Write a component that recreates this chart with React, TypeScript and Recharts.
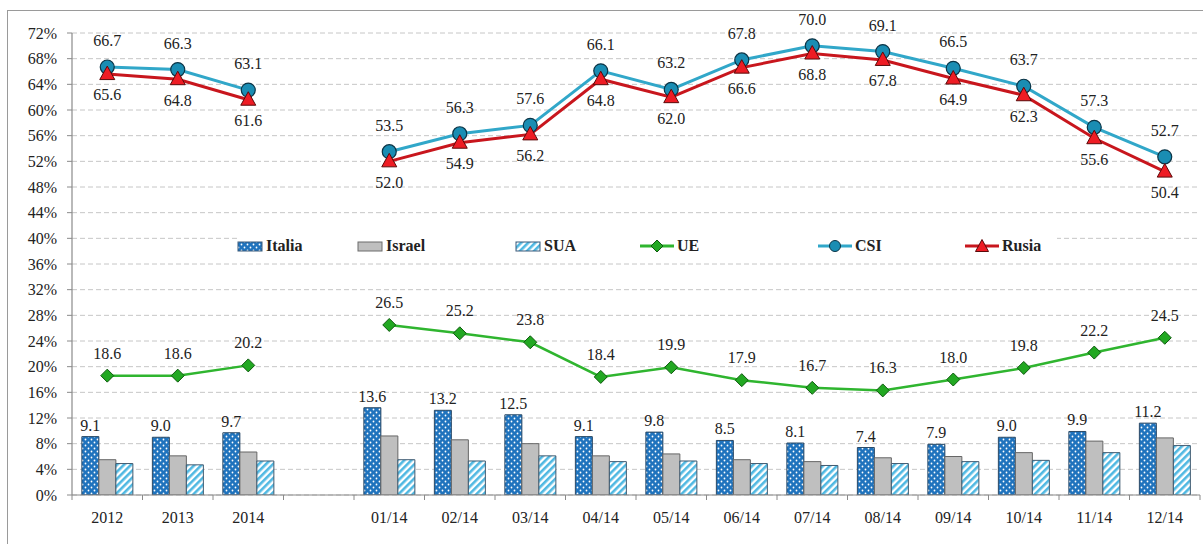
import React from 'react';
import { ComposedChart, Bar, Line, XAxis, YAxis, CartesianGrid, Legend, LabelList } from 'recharts';

const categories = ['2012', '2013', '2014', '', '01/14', '02/14', '03/14', '04/14', '05/14', '06/14', '07/14', '08/14', '09/14', '10/14', '11/14', '12/14'];
const italia = [9.1, 9.0, 9.7, null, 13.6, 13.2, 12.5, 9.1, 9.8, 8.5, 8.1, 7.4, 7.9, 9.0, 9.9, 11.2];
const israel = [5.5, 6.1, 6.7, null, 9.2, 8.6, 8.0, 6.1, 6.4, 5.5, 5.2, 5.8, 6.0, 6.6, 8.4, 8.9];
const sua = [4.9, 4.7, 5.3, null, 5.5, 5.3, 6.1, 5.2, 5.3, 4.9, 4.6, 4.9, 5.2, 5.4, 6.6, 7.7];
const ue = [18.6, 18.6, 20.2, null, 26.5, 25.2, 23.8, 18.4, 19.9, 17.9, 16.7, 16.3, 18.0, 19.8, 22.2, 24.5];
const csi = [66.7, 66.3, 63.1, null, 53.5, 56.3, 57.6, 66.1, 63.2, 67.8, 70.0, 69.1, 66.5, 63.7, 57.3, 52.7];
const rusia = [65.6, 64.8, 61.6, null, 52.0, 54.9, 56.2, 64.8, 62.0, 66.6, 68.8, 67.8, 64.9, 62.3, 55.6, 50.4];
const yTicks = [0, 4, 8, 12, 16, 20, 24, 28, 32, 36, 40, 44, 48, 52, 56, 60, 64, 68, 72];

const data = categories.map((c, i) => ({
  cat: c,
  Italia: italia[i],
  Israel: israel[i],
  SUA: sua[i],
  UE: ue[i],
  CSI: csi[i],
  Rusia: rusia[i],
}));

const FONT = '"Liberation Serif", "Times New Roman", Times, serif';
const TXT = '#222';

const fmt = (v: any) => (v === null || v === undefined || v === '' ? '' : Number(v).toFixed(1));

const XTick = (props: any) => {
  const { x, y, payload, index, visibleTicksCount } = props;
  const half = payload && typeof payload.offset === 'number' && payload.offset > 0 ? payload.offset : 35.25;
  const last = index === (visibleTicksCount ?? categories.length) - 1;
  return (
    <g>
      <line x1={x - half} y1={y} x2={x - half} y2={y + 5} stroke="#8a8a8a" strokeWidth={1} />
      {last && <line x1={x + half} y1={y} x2={x + half} y2={y + 5} stroke="#8a8a8a" strokeWidth={1} />}
      <text x={x} y={y + 28} textAnchor="middle" style={{ fontFamily: FONT, fontSize: 16 }} fill={TXT}>
        {payload.value}
      </text>
    </g>
  );
};

const Diamond = (props: any) => {
  const { cx, cy, value, index } = props;
  if (value === null || value === undefined || cx == null || cy == null) return <g key={'d' + index} />;
  const s = 6.5;
  return (
    <polygon key={'d' + index} points={`${cx},${cy - s} ${cx + s},${cy} ${cx},${cy + s} ${cx - s},${cy}`} fill="#22a822" stroke="#0e5a0e" strokeWidth={1} />
  );
};

const Circle = (props: any) => {
  const { cx, cy, value, index } = props;
  if (value === null || value === undefined || cx == null || cy == null) return <g key={'c' + index} />;
  return <circle key={'c' + index} cx={cx} cy={cy} r={7} fill="#1a8db3" stroke="#0b3446" strokeWidth={1.2} />;
};

const Tri = (props: any) => {
  const { cx, cy, value, index } = props;
  if (value === null || value === undefined || cx == null || cy == null) return <g key={'t' + index} />;
  return (
    <polygon key={'t' + index} points={`${cx},${cy - 8} ${cx + 7.5},${cy + 5.5} ${cx - 7.5},${cy + 5.5}`} fill="#ee1c24" stroke="#5a0a0a" strokeWidth={1} />
  );
};

const legendItems = [
  { name: 'Italia', kind: 'dots', left: 0 },
  { name: 'Israel', kind: 'gray', left: 120 },
  { name: 'SUA', kind: 'stripes', left: 278 },
  { name: 'UE', kind: 'ue', left: 403 },
  { name: 'CSI', kind: 'csi', left: 581 },
  { name: 'Rusia', kind: 'rusia', left: 728 },
];

const LegendIcon = ({ kind }: { kind: string }) => {
  if (kind === 'dots' || kind === 'gray' || kind === 'stripes') {
    const fill = kind === 'dots' ? 'url(#dotsPat)' : kind === 'gray' ? '#bfbfbf' : 'url(#stripePat)';
    const stroke = kind === 'gray' ? '#6d6d6d' : '#3a5a7a';
    return (
      <svg width={26} height={12} style={{ display: 'block' }}>
        <rect x={1} y={2} width={24} height={9} fill={fill} stroke={stroke} strokeWidth={1} />
      </svg>
    );
  }
  const color = kind === 'ue' ? '#2fb52f' : kind === 'csi' ? '#31a7c9' : '#c8161d';
  return (
    <svg width={34} height={16} style={{ display: 'block' }}>
      <line x1={0} y1={8} x2={34} y2={8} stroke={color} strokeWidth={3} />
      {kind === 'ue' && <polygon points="17,2 23,8 17,14 11,8" fill="#22a822" stroke="#0e5a0e" strokeWidth={1} />}
      {kind === 'csi' && <circle cx={17} cy={8} r={5.5} fill="#1a8db3" stroke="#0b3446" strokeWidth={1} />}
      {kind === 'rusia' && <polygon points="17,1.5 23.5,13.5 10.5,13.5" fill="#ee1c24" stroke="#5a0a0a" strokeWidth={1} />}
    </svg>
  );
};

const LegendContent = () => (
  <div style={{ position: 'relative', width: 820, height: 28, background: '#fff' }}>
    {legendItems.map((it) => (
      <div
        key={it.name}
        style={{ position: 'absolute', left: it.left, top: 0, height: 28, display: 'flex', alignItems: 'center', gap: 3 }}
      >
        <LegendIcon kind={it.kind} />
        <span style={{ fontFamily: FONT, fontWeight: 'bold', fontSize: 16, color: TXT }}>{it.name}</span>
      </div>
    ))}
  </div>
);

const labelStyle = { fontFamily: FONT, fontSize: 16, fill: TXT };

export default function App() {
  return (
    <div style={{ position: 'absolute', left: 0, top: 0, width: 1203, height: 544, overflow: 'hidden', background: '#fff', fontFamily: FONT }}>
      <svg width={0} height={0} style={{ position: 'absolute' }}>
        <defs>
          <pattern id="dotsPat" width={6} height={6} patternUnits="userSpaceOnUse">
            <rect width={6} height={6} fill="#1f73bd" />
            <circle cx={1.5} cy={1.5} r={0.9} fill="#ffffff" />
            <circle cx={4.5} cy={4.5} r={0.9} fill="#ffffff" />
          </pattern>
          <pattern id="stripePat" width={5} height={5} patternUnits="userSpaceOnUse" patternTransform="rotate(45)">
            <rect width={5} height={5} fill="#ffffff" />
            <rect width={2.6} height={5} fill="#4fb8e2" />
          </pattern>
        </defs>
      </svg>
      <div style={{ position: 'absolute', left: 7, top: 10, width: 1220, height: 560, border: '1px solid #9a9a9a' }} />
      <div style={{ position: 'absolute', left: 0, top: 0 }}>
        <ComposedChart
          width={1203}
          height={544}
          data={data}
          margin={{ top: 33, right: 3, bottom: 0, left: 0 }}
          barCategoryGap="14%"
          barGap={0}
          style={{ fontFamily: FONT }}
        >
          <CartesianGrid vertical={false} stroke="#c6c6c6" strokeDasharray="5 3" />
          <XAxis
            dataKey="cat"
            height={49}
            interval={0}
            tickLine={false}
            tickSize={0}
            tickMargin={0}
            axisLine={{ stroke: '#8a8a8a', strokeWidth: 1.2 }}
            tick={<XTick />}
          />
          <YAxis
            width={72}
            domain={[0, 72]}
            ticks={yTicks}
            interval={0}
            allowDataOverflow
            tickFormatter={(v: number) => `${v}%`}
            axisLine={{ stroke: '#8a8a8a', strokeWidth: 1.2 }}
            tickLine={{ stroke: '#8a8a8a' }}
            tickSize={5}
            tickMargin={10}
            tick={{ style: { fontFamily: FONT, fontSize: 16 }, fill: TXT }}
          />
          <Legend
            layout="horizontal"
            verticalAlign="middle"
            align="center"
            wrapperStyle={{ position: 'absolute', left: 237, top: 232, width: 820, height: 28 }}
            content={<LegendContent />}
          />
          <Bar dataKey="Italia" fill="url(#dotsPat)" stroke="#2b4a66" strokeWidth={1} isAnimationActive={false}>
            <LabelList dataKey="Italia" position="top" offset={6} formatter={fmt} style={labelStyle} />
          </Bar>
          <Bar dataKey="Israel" fill="#bfbfbf" stroke="#666666" strokeWidth={1} isAnimationActive={false} />
          <Bar dataKey="SUA" fill="url(#stripePat)" stroke="#3f5a70" strokeWidth={1} isAnimationActive={false} />
          <Line dataKey="UE" stroke="#2fb52f" strokeWidth={2.5} dot={<Diamond />} activeDot={false} connectNulls={false} isAnimationActive={false}>
            <LabelList dataKey="UE" position="top" offset={17} formatter={fmt} style={labelStyle} />
          </Line>
          <Line dataKey="CSI" stroke="#31a7c9" strokeWidth={3} dot={<Circle />} activeDot={false} connectNulls={false} isAnimationActive={false}>
            <LabelList dataKey="CSI" position="top" offset={21} formatter={fmt} style={labelStyle} />
          </Line>
          <Line dataKey="Rusia" stroke="#c8161d" strokeWidth={3} dot={<Tri />} activeDot={false} connectNulls={false} isAnimationActive={false}>
            <LabelList dataKey="Rusia" position="bottom" offset={15} formatter={fmt} style={labelStyle} />
          </Line>
        </ComposedChart>
      </div>
    </div>
  );
}
